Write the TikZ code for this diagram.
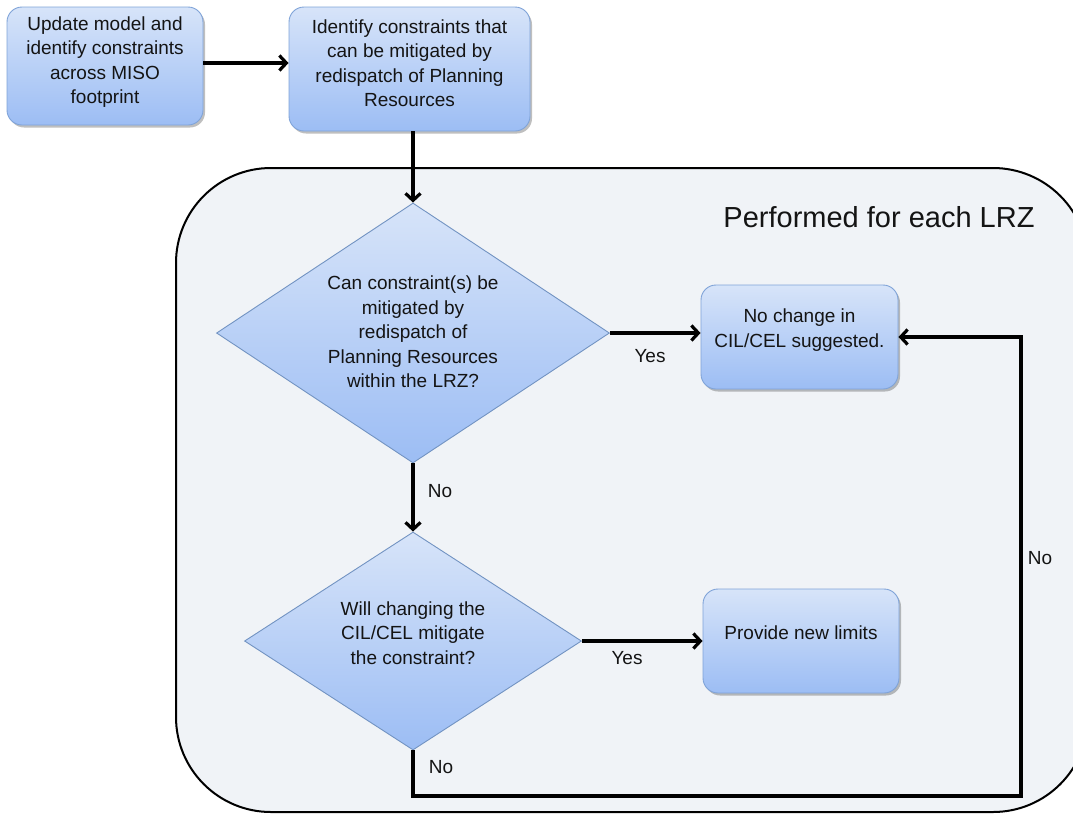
\documentclass[tikz,border=0pt]{standalone}
\usepackage{fontspec}
\setmainfont{Liberation Sans}
\usetikzlibrary{shapes.geometric,arrows.meta,shadows}
\definecolor{bgfill}{HTML}{F0F3F7}
\definecolor{boxtop}{HTML}{D7E4F9}
\definecolor{boxbot}{HTML}{9CBDF4}
\definecolor{boxline}{HTML}{7FA3D8}
\definecolor{txt}{HTML}{141414}
\begin{document}
\begin{tikzpicture}[x=1pt,y=-1pt,
  every node/.style={text=txt},
  procbox/.style={rectangle,rounded corners=15pt,draw=boxline,line width=0.9pt,
    top color=boxtop,bottom color=boxbot,inner sep=0pt,
    drop shadow={shadow xshift=2pt,shadow yshift=-2.5pt,opacity=0.25,fill=black}},
  decbox/.style={diamond,draw=boxline!90!black,line width=0.9pt,top color=boxtop,bottom color=boxbot,inner sep=0pt},
  txtnode/.style={font=\fontsize{19}{24.5}\selectfont,align=center,inner sep=0pt},
  lbl/.style={font=\fontsize{19}{23}\selectfont,inner sep=0pt},
  conn/.style={line width=3.2pt,draw=black},
  arr/.style={conn,-{Straight Barb[length=7pt,width=15pt,line width=3.2pt]}}]
\useasboundingbox (0,0) rectangle (1073,815);
\begin{scope}
\clip (0,0) rectangle (1073,815);
\draw[fill=bgfill,line width=2pt,rounded corners=95pt] (176,168) rectangle (1088,812);
\end{scope}
\node[txtnode] (lrz) at (879,217) {\fontsize{29}{32}\selectfont Performed for each LRZ};

\node[procbox,minimum width=196pt,minimum height=118pt] (b1) at (105,66) {};
\node[txtnode] (t1) at (105,62) {Update model and\\identify constraints\\across MISO\\footprint};
\node[procbox,minimum width=241pt,minimum height=124pt] (b2) at (409.5,69) {};
\node[txtnode] (t2) at (409.5,63) {Identify constraints that\\can be mitigated by\\redispatch of Planning\\Resources};
\node[decbox,minimum width=393pt,minimum height=260pt] (d1) at (413,333) {};
\node[txtnode] (t3) at (413,332) {Can constraint(s) be\\mitigated by\\redispatch of\\Planning Resources\\within the LRZ?};
\node[procbox,minimum width=197pt,minimum height=104pt] (b3) at (799.5,337) {};
\node[txtnode] (t4) at (799.5,330) {No change in\\CIL/CEL suggested.};
\node[decbox,minimum width=337pt,minimum height=218pt] (d2) at (413,641) {};
\node[txtnode] (t5) at (413,633) {Will changing the\\CIL/CEL mitigate\\the constraint?};
\node[procbox,minimum width=196pt,minimum height=104pt] (b4) at (801,641) {};
\node[txtnode] (t6) at (801,633) {Provide new limits};

\coordinate (c1) at (413,796);
\coordinate (c2) at (1021,796);
\coordinate (c3) at (1021,337);

\draw[arr] (b1.east |- 0,63) -- (b2.west |- 0,63);
\draw[arr] (d1.north |- b2.south) -- (d1.north);
\draw[arr] (d1.east) -- (d1.east -| b3.west);
\draw[arr] (d1.south) -- (d2.north);
\draw[arr] (d2.east) -- (d2.east -| b4.west);
\draw[conn,line join=miter] (d2.south) -- (c1) -- (c2) -- (c3) -- ++(-2,0);
\draw[arr] (c3) -- (b3.east);

\node[lbl] (y1) at (650,356) {Yes};
\node[lbl] (n1) at (440,491) {No};
\node[lbl] (y2) at (627,658) {Yes};
\node[lbl] (n2) at (441,767) {No};
\node[lbl] (n3) at (1040,558) {No};
\end{tikzpicture}
\end{document}
